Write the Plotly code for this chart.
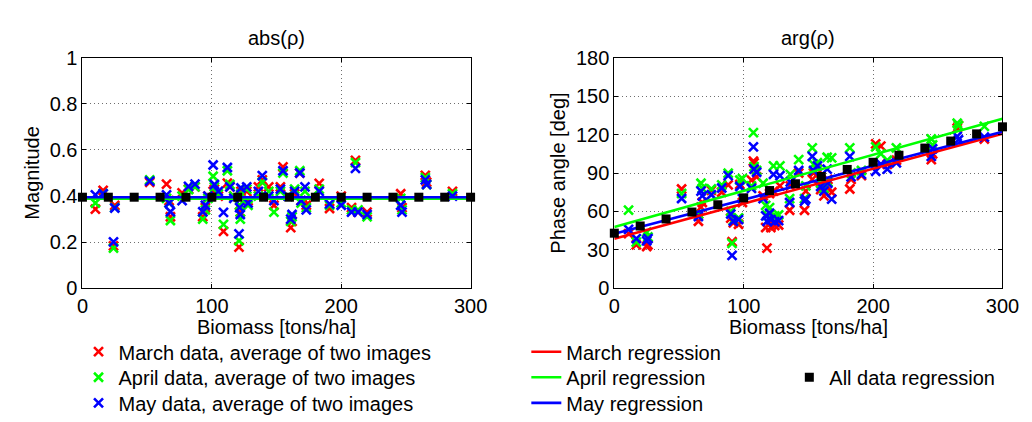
import plotly.graph_objects as go

# ---------------- data ----------------
# abs(rho) samples: biomass, March, April, May magnitudes
abs_x = [10, 16, 24, 25, 52, 65, 67, 68, 77, 82, 87, 93, 95, 97, 101, 102, 105, 109,
         112, 114, 117, 121, 121.5, 122, 122.5, 127, 128, 136, 139, 144, 148, 153, 155,
         159, 161, 162, 164, 168, 169, 172, 173, 183, 191, 200, 208, 211, 213, 220,
         246, 247, 265, 266, 286]
abs_march = [0.343, 0.425, 0.184, 0.359, 0.46, 0.452, 0.38, 0.31, 0.414, 0.43, 0.44, 0.31,
             0.35, 0.40, 0.42, 0.43, 0.40, 0.247, 0.456, 0.44, 0.40, 0.178, 0.36, 0.33, 0.42,
             0.42, 0.38, 0.44, 0.47, 0.44, 0.36, 0.44, 0.527, 0.40, 0.263, 0.29, 0.41, 0.50,
             0.38, 0.38, 0.36, 0.455, 0.346, 0.40, 0.35, 0.555, 0.33, 0.33, 0.41, 0.35,
             0.49, 0.46, 0.42]
abs_april = [0.37, 0.41, 0.174, 0.35, 0.47, 0.39, 0.37, 0.294, 0.40, 0.428, 0.44, 0.30,
             0.34, 0.39, 0.486, 0.44, 0.41, 0.277, 0.51, 0.45, 0.40, 0.206, 0.36, 0.30, 0.41,
             0.43, 0.36, 0.40, 0.46, 0.42, 0.33, 0.42, 0.50, 0.40, 0.29, 0.31, 0.43, 0.51,
             0.37, 0.42, 0.35, 0.43, 0.36, 0.37, 0.34, 0.545, 0.34, 0.31, 0.39, 0.34,
             0.48, 0.45, 0.41]
abs_may = [0.405, 0.41, 0.201, 0.348, 0.465, 0.405, 0.37, 0.332, 0.38, 0.442, 0.452, 0.332,
           0.36, 0.40, 0.535, 0.45, 0.42, 0.329, 0.524, 0.44, 0.39, 0.236, 0.35, 0.32, 0.435,
           0.44, 0.37, 0.42, 0.489, 0.40, 0.38, 0.43, 0.51, 0.40, 0.30, 0.32, 0.42, 0.50,
           0.38, 0.44, 0.34, 0.42, 0.366, 0.36, 0.33, 0.52, 0.33, 0.32, 0.36, 0.33,
           0.47, 0.45, 0.40]

# arg(rho) samples: biomass, March, April, May phase angles [deg]
arg_x = [11, 17, 25, 26, 52, 65, 67, 68, 75, 83, 88, 90, 91, 92, 96, 97, 99, 106, 107.5,
         108, 110, 115, 117, 118, 120, 121, 123, 124, 127, 128, 135.5, 136, 142.5, 147, 148,
         153, 154, 157, 159.5, 162, 164.5, 165, 168, 182, 183, 191, 202, 206, 211, 218,
         245, 246, 265, 266, 286]
arg_march = [42.6, 33.8, 32.6, 33.8, 77.5, 52.3, 63.4, 67, 76.5, 75, 80.7, 54.8, 36.3, 51,
             50, 81, 67, 84.4, 99.3, 98, 87, 72.2, 47.4, 31.3, 74, 47.4, 75.8, 49, 49.4, 80,
             60.9, 80, 90, 60.9, 75.8, 85, 90, 93, 77, 72.2, 79.5, 85, 75, 77.5, 85, 88,
             112.8, 111, 96.8, 100, 100.5, 105, 125, 127, 116.6]
arg_april = [61, 36, 43.7, 40, 74, 58, 82, 78, 77.5, 80.7, 89.8, 60, 35, 53, 55, 84.4,
             85.6, 80, 121.6, 95, 92, 82, 64.7, 57, 63, 55, 95.6, 56.5, 57.3, 95.6, 70, 89,
             100.5, 70, 80, 109.6, 96.8, 98, 82, 78, 102.3, 83, 101.8, 109.6, 90, 92,
             110.4, 105, 100, 109.6, 116.6, 112, 128.9, 127, 126.5]
arg_may = [46, 38.7, 37, 38.7, 70.1, 56, 75.8, 72.2, 73, 78.3, 88, 58, 25.6, 52.3, 53.6,
           79.5, 70, 78, 110.4, 93, 90.6, 70, 56.5, 52.3, 58.6, 53.6, 88.9, 52, 52.8, 88,
           67, 83, 92, 68, 69.6, 103, 92, 95.6, 79.5, 75.8, 93, 82, 69.6, 103, 87, 89,
           91.4, 97, 93, 97.9, 103, 109, 118.6, 116, 118]

# regression lines (intercept, slope) for March, April, May
months = ["March", "April", "May"]
month_colors = ["#ff0000", "#00ff00", "#0000ff"]
abs_reg_intercept = [0.393, 0.389, 0.395]
abs_reg_slope = [0.0, 0.0, 0.0]
arg_reg_intercept = [38.7, 47.9, 42.6]
arg_reg_slope = [0.2733, 0.2817, 0.2653]
reg_x = [0, 300]

# all-data regression points
all_x = [0, 20, 40, 60, 80, 100, 120, 140, 160, 180, 200, 220, 240, 260, 280, 300]
all_abs = [0.395, 0.395, 0.395, 0.395, 0.395, 0.395, 0.395, 0.395,
           0.395, 0.395, 0.395, 0.395, 0.395, 0.395, 0.395, 0.395]
all_arg = [43.0, 48.6, 54.1, 59.5, 65.2, 70.6, 76.3, 81.6,
           87.3, 92.8, 98.4, 103.9, 109.5, 115.0, 120.6, 126.1]

x_ticks = [0, 100, 200, 300]
abs_ticks = [0, 0.2, 0.4, 0.6, 0.8, 1]
abs_ticktext = ["0", "0.2", "0.4", "0.6", "0.8", "1"]
arg_ticks = [0, 30, 60, 90, 120, 150, 180]

# ---------------- figure ----------------
W, H = 1032, 422
FONT = "Liberation Sans, Arial, sans-serif"


def px_x(p):
    return p / W


def px_y(p):
    return 1 - p / H


fig = go.Figure()

abs_series = [abs_march, abs_april, abs_may]
arg_series = [arg_march, arg_april, arg_may]

# legend rows (centre, px)
row_y = [351, 378, 405]
scatter_legends = ["legend", "legend2", "legend3"]
line_legends = ["legend4", "legend5", "legend6"]

for i, m in enumerate(months):
    mk = dict(symbol="x-thin", size=9, line=dict(width=2.6, color=month_colors[i]),
              color=month_colors[i])
    fig.add_trace(go.Scatter(
        x=abs_x, y=abs_series[i], mode="markers", xaxis="x", yaxis="y",
        name=f"{m} data, average of two images", legend=scatter_legends[i],
        marker=mk, cliponaxis=False, showlegend=True))
    fig.add_trace(go.Scatter(
        x=arg_x, y=arg_series[i], mode="markers", xaxis="x2", yaxis="y2",
        name=f"{m} data, average of two images", legend=scatter_legends[i],
        marker=mk, cliponaxis=False, showlegend=False))

for i, m in enumerate(months):
    fig.add_trace(go.Scatter(
        x=reg_x, y=[abs_reg_intercept[i] + abs_reg_slope[i] * v for v in reg_x],
        mode="lines", xaxis="x", yaxis="y", name=f"{m} regression",
        legend=line_legends[i],
        line=dict(color=month_colors[i], width=2.6), showlegend=True))
    fig.add_trace(go.Scatter(
        x=reg_x, y=[arg_reg_intercept[i] + arg_reg_slope[i] * v for v in reg_x],
        mode="lines", xaxis="x2", yaxis="y2", name=f"{m} regression",
        legend=line_legends[i],
        line=dict(color=month_colors[i], width=2.6), showlegend=False))

fig.add_trace(go.Scatter(
    x=all_x, y=all_abs, mode="markers", xaxis="x", yaxis="y", name="All data regression",
    legend="legend7", marker=dict(symbol="square", size=9, color="black"),
    cliponaxis=False, showlegend=True))
fig.add_trace(go.Scatter(
    x=all_x, y=all_arg, mode="markers", xaxis="x2", yaxis="y2", name="All data regression",
    legend="legend7", marker=dict(symbol="square", size=9, color="black"),
    cliponaxis=False, showlegend=False))

axis_common = dict(
    showline=True, mirror="ticks", linecolor="black", linewidth=1,
    ticks="inside", ticklen=4, tickcolor="black",
    showgrid=True, gridcolor="rgb(110,110,110)", griddash="1px,3px", gridwidth=1,
    zeroline=False, tickfont=dict(family=FONT, size=20, color="black"),
)

dom_y = [px_y(284), px_y(41)]


def leg(xpx, ypx):
    return dict(x=px_x(xpx), y=px_y(ypx), xanchor="left", yanchor="middle",
                bgcolor="rgba(0,0,0,0)", font=dict(family=FONT, size=20),
                tracegroupgap=0)


fig.update_layout(
    width=W, height=H, margin=dict(l=0, r=0, t=0, b=0),
    paper_bgcolor="white", plot_bgcolor="white",
    font=dict(family=FONT, size=20, color="black"),
    xaxis=dict(domain=[px_x(70), px_x(467)], range=[0, 300], tickvals=x_ticks,
               anchor="y", **axis_common),
    yaxis=dict(domain=dom_y, range=[0, 1], tickvals=abs_ticks, ticktext=abs_ticktext,
               anchor="x", **axis_common),
    xaxis2=dict(domain=[px_x(614), px_x(1011)], range=[0, 300], tickvals=x_ticks,
                anchor="y2", **axis_common),
    yaxis2=dict(domain=dom_y, range=[0, 180], tickvals=arg_ticks,
                anchor="x2", **axis_common),
    legend=leg(66, row_y[0]),
    legend2=leg(66, row_y[1]),
    legend3=leg(66, row_y[2]),
    legend4=leg(524, row_y[0]),
    legend5=leg(524, row_y[1]),
    legend6=leg(524, row_y[2]),
    legend7=leg(793, row_y[1]),
    showlegend=True,
)

ann = [
    dict(text="abs(ρ)", x=px_x(268.5), y=px_y(20)),
    dict(text="arg(ρ)", x=px_x(812.5), y=px_y(20)),
    dict(text="Biomass [tons/ha]", x=px_x(268.5), y=px_y(325)),
    dict(text="Biomass [tons/ha]", x=px_x(812.5), y=px_y(325)),
    dict(text="Magnitude", x=px_x(18), y=px_y(162.5), textangle=-90),
    dict(text="Phase angle [deg]", x=px_x(556), y=px_y(162.5), textangle=-90),
]
for a in ann:
    fig.add_annotation(xref="paper", yref="paper", showarrow=False,
                       xanchor="center", yanchor="middle",
                       font=dict(family=FONT, size=20, color="black"), **a)

fig.write_html("out.html")
